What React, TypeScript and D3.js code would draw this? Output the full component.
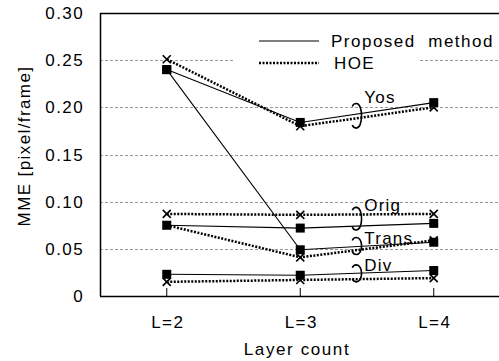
import React, { useEffect, useRef } from "react";
import * as d3 from "d3";

const categories = ["L=2", "L=3", "L=4"];
const yTicks = [0, 0.05, 0.1, 0.15, 0.2, 0.25, 0.3];
const yTickLabels = ["0", "0.05", "0.10", "0.15", "0.20", "0.25", "0.30"];

const proposedYos = [0.24, 0.184, 0.205];
const hoeYos = [0.251, 0.18, 0.2];
const proposedOrig = [0.075, 0.072, 0.077];
const hoeOrig = [0.087, 0.086, 0.087];
const proposedTrans = [0.24, 0.049, 0.057];
const hoeTrans = [0.075, 0.041, 0.059];
const proposedDiv = [0.023, 0.022, 0.027];
const hoeDiv = [0.015, 0.017, 0.019];

const groupLabels = ["Yos", "Orig", "Trans", "Div"];
const bracketLow = [0.178, 0.07, 0.044, 0.015];
const bracketHigh = [0.204, 0.094, 0.062, 0.033];
const labelValue = [0.205, 0.09, 0.055, 0.026];

const FONT = "'Liberation Sans', Arial, sans-serif";

const App = () => {
  const svgRef = useRef<SVGSVGElement>(null);

  useEffect(() => {
    const width = 499;
    const height = 361;
    const left = 100;
    const right = 500.5;
    const top = 13;
    const bottom = 296;

    const svg = d3.select(svgRef.current).attr("width", width).attr("height", height);
    svg.selectAll("*").remove();

    const x = d3.scalePoint().domain(categories).range([left, right]).padding(0.5);
    const y = d3.scaleLinear().domain([0, 0.3]).range([bottom, top]);

    // grid
    svg
      .append("g")
      .selectAll("line")
      .data(yTicks.filter((t) => t > 0 && t < 0.3))
      .enter()
      .append("line")
      .attr("x1", left)
      .attr("x2", right)
      .attr("y1", (d) => Math.round(y(d)) + 0.5)
      .attr("y2", (d) => Math.round(y(d)) + 0.5)
      .attr("stroke", "#999")
      .attr("stroke-dasharray", "3,2");

    // frame
    svg.append("line").attr("x1", left).attr("x2", right).attr("y1", top + 0.5).attr("y2", top + 0.5).attr("stroke", "#000").attr("stroke-width", 1.5);
    svg.append("line").attr("x1", left + 0.5).attr("x2", left + 0.5).attr("y1", top).attr("y2", bottom).attr("stroke", "#000").attr("stroke-width", 1.5);
    svg.append("line").attr("x1", left).attr("x2", right).attr("y1", bottom + 0.5).attr("y2", bottom + 0.5).attr("stroke", "#000").attr("stroke-width", 1.5);

    // x ticks (inward)
    svg
      .append("g")
      .selectAll("line")
      .data(categories)
      .enter()
      .append("line")
      .attr("x1", (d) => x(d)!)
      .attr("x2", (d) => x(d)!)
      .attr("y1", bottom - 8)
      .attr("y2", bottom)
      .attr("stroke", "#000");

    // tick labels
    svg
      .append("g")
      .selectAll("text")
      .data(yTicks)
      .enter()
      .append("text")
      .attr("x", 84)
      .attr("y", (d) => y(d) + 6)
      .attr("text-anchor", "end")
      .attr("font-family", FONT)
      .attr("font-size", 17)
      .attr("letter-spacing", 1.4)
      .text((d, i) => yTickLabels[i]);

    svg
      .append("g")
      .selectAll("text")
      .data(categories)
      .enter()
      .append("text")
      .attr("x", (d) => x(d)! + 1)
      .attr("y", 328)
      .attr("text-anchor", "middle")
      .attr("font-family", FONT)
      .attr("font-size", 17)
      .attr("letter-spacing", 1.4)
      .text((d) => d);

    svg
      .append("text")
      .attr("x", 297)
      .attr("y", 355)
      .attr("text-anchor", "middle")
      .attr("font-family", FONT)
      .attr("font-size", 17)
      .attr("letter-spacing", 1.6)
      .text("Layer count");

    svg
      .append("text")
      .attr("transform", "translate(30,146) rotate(-90)")
      .attr("text-anchor", "middle")
      .attr("font-family", FONT)
      .attr("font-size", 17)
      .attr("letter-spacing", 1.4)
      .text("MME [pixel/frame]");

    // legend box
    svg.append("rect").attr("x", 233).attr("y", 24).attr("width", 187).attr("height", 50).attr("fill", "#fff");

    const line = d3
      .line<number>()
      .x((d, i) => x(categories[i])!)
      .y((d) => y(d));

    const proposed = [proposedYos, proposedOrig, proposedTrans, proposedDiv];
    const hoe = [hoeYos, hoeOrig, hoeTrans, hoeDiv];

    hoe.forEach((s) => {
      svg
        .append("path")
        .attr("d", line(s))
        .attr("fill", "none")
        .attr("stroke", "#000")
        .attr("stroke-width", 2.5)
        .attr("stroke-dasharray", "2,1.5");
    });
    proposed.forEach((s) => {
      svg.append("path").attr("d", line(s)).attr("fill", "none").attr("stroke", "#000").attr("stroke-width", 1.1);
    });

    hoe.forEach((s) => {
      svg
        .append("g")
        .selectAll("path")
        .data(s)
        .enter()
        .append("path")
        .attr("d", "M-4,-4L4,4M-4,4L4,-4")
        .attr("transform", (d, i) => `translate(${x(categories[i])},${y(d)})`)
        .attr("stroke", "#000")
        .attr("stroke-width", 1.6);
    });
    proposed.forEach((s) => {
      svg
        .append("g")
        .selectAll("rect")
        .data(s)
        .enter()
        .append("rect")
        .attr("x", (d, i) => x(categories[i])! - 4.5)
        .attr("y", (d) => y(d) - 4.5)
        .attr("width", 9)
        .attr("height", 9)
        .attr("fill", "#000");
    });

    // group brackets and labels
    const step = x.step();
    const bx = x("L=3")! + step * 0.42;
    groupLabels.forEach((g, i) => {
      const y0 = y(bracketHigh[i]);
      const y1 = y(bracketLow[i]);
      svg
        .append("path")
        .attr(
          "d",
          `M${bx - 4},${y0 + 3} Q${bx - 3},${y0} ${bx},${y0} C${bx + 7},${y0} ${bx + 7},${y1} ${bx},${y1} Q${bx - 3},${y1} ${bx - 4},${y1 - 3}`
        )
        .attr("fill", "none")
        .attr("stroke", "#000")
        .attr("stroke-width", 1.6);
      svg
        .append("text")
        .attr("x", bx + 8)
        .attr("y", y(labelValue[i]))
        .attr("font-family", FONT)
        .attr("font-size", 17)
        .attr("letter-spacing", 1.2)
        .text(g);
    });

    // legend entries
    svg.append("line").attr("x1", 259).attr("x2", 319).attr("y1", 41).attr("y2", 41).attr("stroke", "#000").attr("stroke-width", 1.2);
    svg
      .append("line")
      .attr("x1", 259)
      .attr("x2", 319)
      .attr("y1", 63)
      .attr("y2", 63)
      .attr("stroke", "#000")
      .attr("stroke-width", 2.5)
      .attr("stroke-dasharray", "2,1.5");
    svg
      .append("text")
      .attr("x", 331)
      .attr("y", 47)
      .attr("font-family", FONT)
      .attr("font-size", 17)
      .attr("letter-spacing", 1.5)
      .style("white-space", "pre")
      .text("Proposed  method");
    svg
      .append("text")
      .attr("x", 334)
      .attr("y", 69)
      .attr("font-family", FONT)
      .attr("font-size", 17)
      .attr("letter-spacing", 1.4)
      .text("HOE");
  }, []);

  return <svg ref={svgRef} style={{ position: "absolute", left: 0, top: 0, background: "#fff" }}></svg>;
};

export default App;
